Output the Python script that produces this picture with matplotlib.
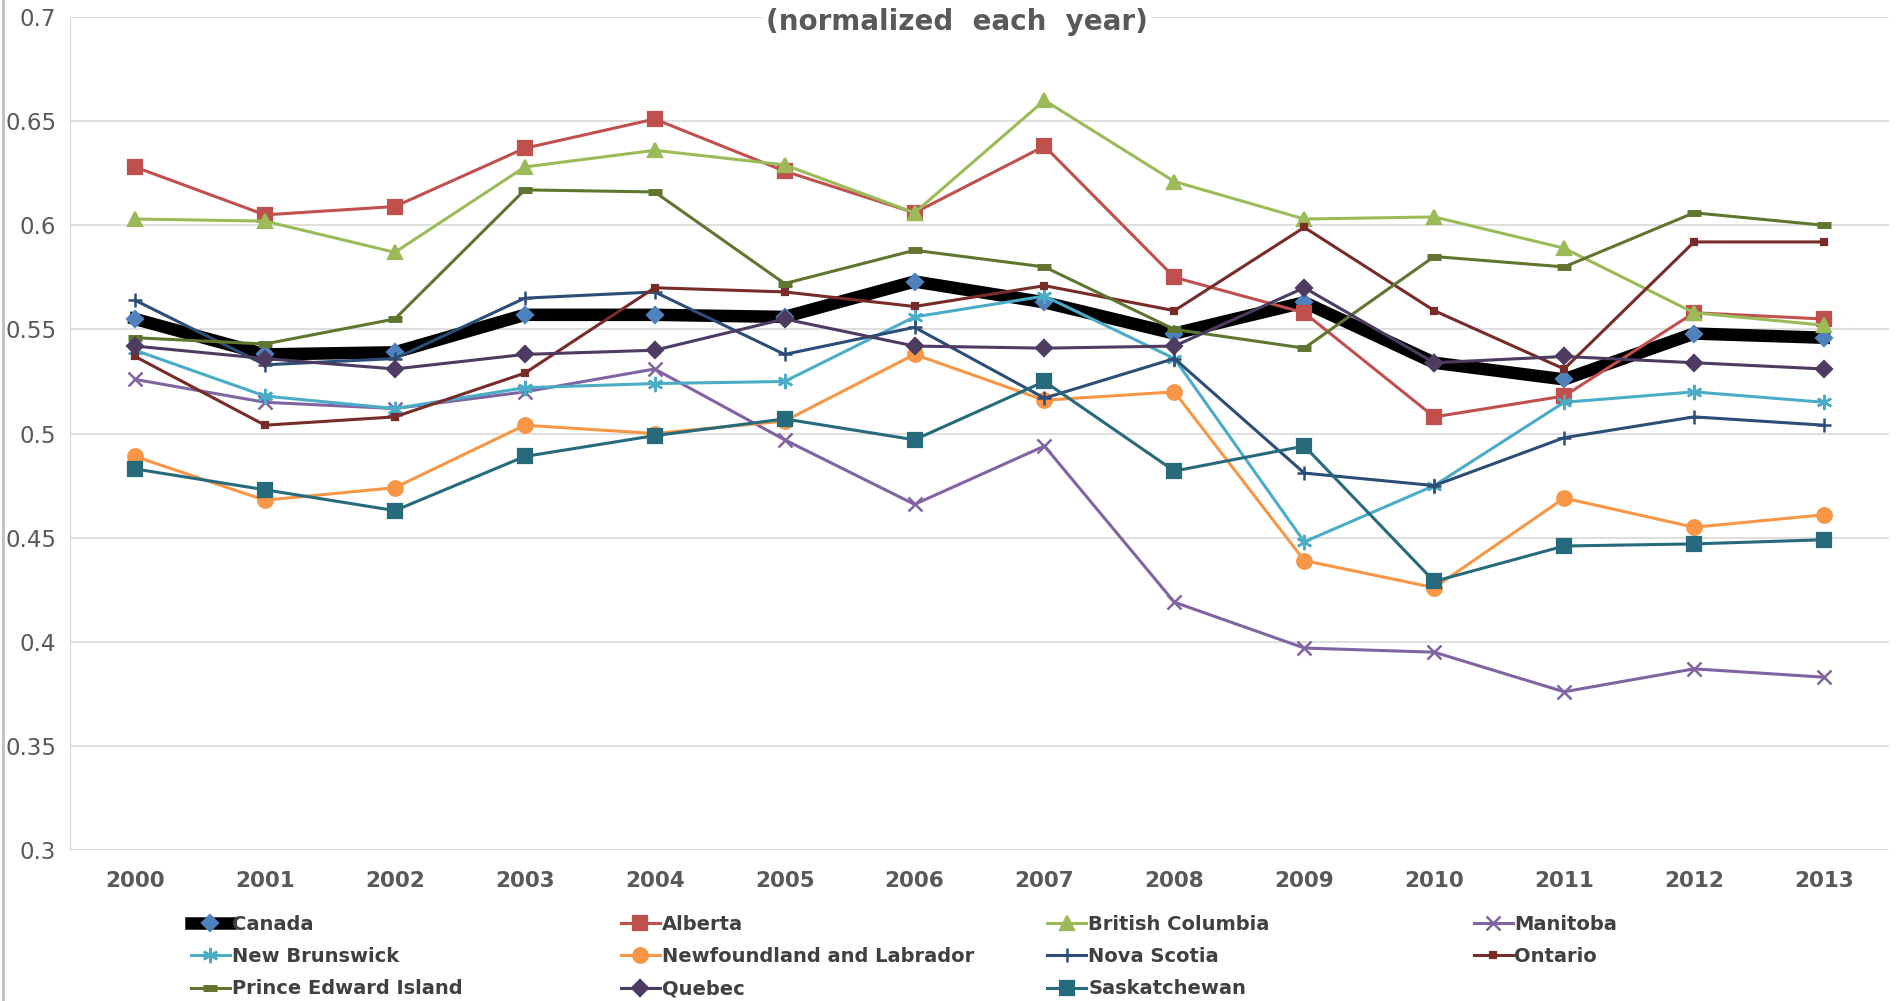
import numpy as np
import matplotlib
matplotlib.use("Agg")
import matplotlib.pyplot as plt
from matplotlib.lines import Line2D

# data (normalized each year)
years = ["2000", "2001", "2002", "2003", "2004", "2005", "2006",
         "2007", "2008", "2009", "2010", "2011", "2012", "2013"]

canada = [0.555, 0.538, 0.539, 0.557, 0.557, 0.556, 0.573, 0.563, 0.548, 0.563, 0.534, 0.526, 0.548, 0.546]
alberta = [0.628, 0.605, 0.609, 0.637, 0.651, 0.626, 0.606, 0.638, 0.575, 0.558, 0.508, 0.518, 0.558, 0.555]
british_columbia = [0.603, 0.602, 0.587, 0.628, 0.636, 0.629, 0.606, 0.660, 0.621, 0.603, 0.604, 0.589, 0.558, 0.552]
manitoba = [0.526, 0.515, 0.512, 0.520, 0.531, 0.497, 0.466, 0.494, 0.419, 0.397, 0.395, 0.376, 0.387, 0.383]
new_brunswick = [0.540, 0.518, 0.512, 0.522, 0.524, 0.525, 0.556, 0.566, 0.536, 0.448, 0.475, 0.515, 0.520, 0.515]
newfoundland = [0.489, 0.468, 0.474, 0.504, 0.500, 0.506, 0.538, 0.516, 0.520, 0.439, 0.426, 0.469, 0.455, 0.461]
nova_scotia = [0.564, 0.533, 0.536, 0.565, 0.568, 0.538, 0.551, 0.517, 0.536, 0.481, 0.475, 0.498, 0.508, 0.504]
ontario = [0.537, 0.504, 0.508, 0.529, 0.570, 0.568, 0.561, 0.571, 0.559, 0.599, 0.559, 0.531, 0.592, 0.592]
pei = [0.546, 0.543, 0.555, 0.617, 0.616, 0.572, 0.588, 0.580, 0.550, 0.541, 0.585, 0.580, 0.606, 0.600]
quebec = [0.542, 0.536, 0.531, 0.538, 0.540, 0.555, 0.542, 0.541, 0.542, 0.570, 0.534, 0.537, 0.534, 0.531]
saskatchewan = [0.483, 0.473, 0.463, 0.489, 0.499, 0.507, 0.497, 0.525, 0.482, 0.494, 0.429, 0.446, 0.447, 0.449]

# name, values, line colour, marker, marker colour, marker size, line width
series = [
    ("Canada", canada, "black", "D", "#4F81BD", 8, 9),
    ("Alberta", alberta, "#C0504D", "s", "#C0504D", 10.5, 2.2),
    ("British Columbia", british_columbia, "#9BBB59", "^", "#9BBB59", 10.5, 2.2),
    ("Manitoba", manitoba, "#8064A2", "x", "#8064A2", 9.5, 2.2),
    ("New Brunswick", new_brunswick, "#4BACC6", (6, 2, 0), "#4BACC6", 11, 2.2),
    ("Newfoundland and Labrador", newfoundland, "#F79646", "o", "#F79646", 10.5, 2.2),
    ("Nova Scotia", nova_scotia, "#2C4D75", "+", "#2C4D75", 10.5, 2.2),
    ("Ontario", ontario, "#772C2A", "s", "#772C2A", 5, 2.2),
    ("Prince Edward Island", pei, "#5F7530", "_", "#5F7530", 10, 2.2),
    ("Quebec", quebec, "#4D3B62", "D", "#4D3B62", 8.5, 2.2),
    ("Saskatchewan", saskatchewan, "#276A7C", "s", "#276A7C", 10.5, 2.2),
]

fig = plt.figure(figsize=(18.99, 10.01), dpi=100)
ax = fig.add_axes([0.0369, 0.1508, 0.9578, 0.8322])

x = np.arange(len(years))
handles = {}
for i, (name, vals, lc, mk, mc, ms, lw) in enumerate(series):
    mew = 1.6
    if mk == "_":
        mew = 5
    elif mk in ("x", "+") or isinstance(mk, tuple):
        mew = 1.8
    h, = ax.plot(x, vals, color=lc, lw=lw, marker=mk, markersize=ms,
                 markerfacecolor=mc, markeredgecolor=mc, markeredgewidth=mew,
                 zorder=3 + i, label=name, solid_joinstyle="round")
    handles[name] = h

ax.set_xlim(-0.5, len(years) - 0.5)
ax.set_ylim(0.3, 0.7)
ax.set_yticks(np.arange(0.3, 0.701, 0.05))
ax.set_yticklabels(["0.3", "0.35", "0.4", "0.45", "0.5", "0.55", "0.6", "0.65", "0.7"])
ax.set_xticks(x)
ax.set_xticklabels(years)
ax.grid(axis="y", color="#D9D9D9", lw=1.2)
ax.set_axisbelow(True)
for s in ["top", "right", "bottom"]:
    ax.spines[s].set_visible(False)
ax.spines["left"].set_color("#D9D9D9")
ax.tick_params(axis="both", length=0)
ax.tick_params(axis="y", pad=10, labelsize=16.5, labelcolor="#595959")
ax.tick_params(axis="x", pad=15, labelsize=15.5, labelcolor="#595959")
for t in ax.get_xticklabels():
    t.set_fontweight("bold")

# title, partly cut at the top like the original
fig.text(0.504, 0.978, "(normalized  each  year)", ha="center", va="center",
         fontsize=20, fontweight="bold", color="#595959",
         bbox=dict(facecolor="white", edgecolor="none", pad=2))

# chart border on the left edge
fig.add_artist(Line2D([0.0016, 0.0016], [0, 1], color="#BFBFBF", lw=2))

# legend: four equal-width columns, filled row by row
order = [["Canada", "New Brunswick", "Prince Edward Island"],
         ["Alberta", "Newfoundland and Labrador", "Quebec"],
         ["British Columbia", "Nova Scotia", "Saskatchewan"],
         ["Manitoba", "Ontario"]]
col_x = [0.1005, 0.327, 0.5515, 0.776]
for cx, names in zip(col_x, order):
    leg = fig.legend([handles[n] for n in names], names, loc="upper left",
                     bbox_to_anchor=(cx, 0.086), frameon=False, fontsize=14,
                     handlelength=2.0, handletextpad=0.1, labelspacing=0.68,
                     borderaxespad=0, borderpad=0)
    for t in leg.get_texts():
        t.set_color("#404040")
        t.set_fontweight("bold")

fig.savefig("out.png", dpi=100)
